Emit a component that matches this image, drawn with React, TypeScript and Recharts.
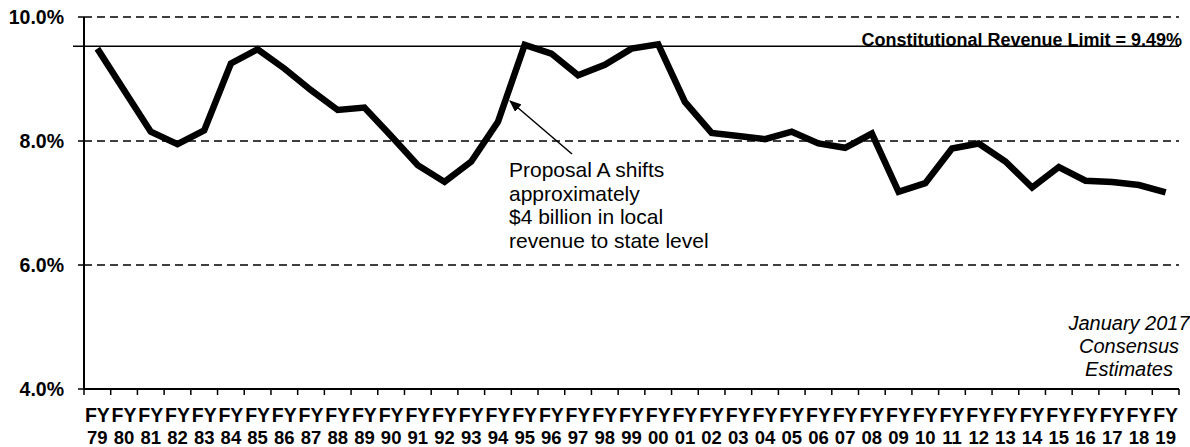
import React from "react";
import {
  LineChart,
  Line,
  XAxis,
  YAxis,
  CartesianGrid,
  ReferenceLine,
} from "recharts";

// fiscal years FY79 .. FY19
const years = [
  "79", "80", "81", "82", "83", "84", "85", "86", "87", "88",
  "89", "90", "91", "92", "93", "94", "95", "96", "97", "98",
  "99", "00", "01", "02", "03", "04", "05", "06", "07", "08",
  "09", "10", "11", "12", "13", "14", "15", "16", "17", "18", "19",
];

// revenue as % of personal income
const revenueShare = [
  9.49, 8.82, 8.15, 7.95, 8.17, 9.25, 9.48, 9.17, 8.82, 8.5,
  8.54, 8.08, 7.61, 7.34, 7.67, 8.31, 9.55, 9.41, 9.06, 9.23,
  9.49, 9.56, 8.63, 8.13, 8.08, 8.03, 8.15, 7.96, 7.89, 8.12,
  7.18, 7.32, 7.88, 7.96, 7.67, 7.25, 7.58, 7.36, 7.34, 7.29, 7.17,
];

const yTicks = [4, 6, 8, 10];
const revenueLimit = 9.53;
const limitLabel = "Constitutional Revenue Limit = 9.49%";
const proposalNote = [
  "Proposal A shifts",
  "approximately",
  "$4 billion in local",
  "revenue to state level",
];
const sourceNote = ["January 2017", "Consensus", "Estimates"];

const FONT = "'Liberation Sans', Arial, sans-serif";

const data = years.map((y, i) => ({ year: y, value: revenueShare[i] }));

const FyTick = (props: any) => {
  const { x, y, payload, index } = props;
  const half = payload?.offset ?? 0;
  const last = index === years.length - 1;
  return (
    <g>
      <line x1={x - half} x2={x - half} y1={y} y2={y + 6} stroke="#000" strokeWidth={1.5} />
      {last && (
        <line x1={x + half} x2={x + half} y1={y} y2={y + 6} stroke="#000" strokeWidth={1.5} />
      )}
      <text
        x={x}
        y={y + 33}
        textAnchor="middle"
        fontFamily={FONT}
        fontWeight="bold"
        fontSize={19.5}
        fill="#000"
      >
        FY
      </text>
      <text
        x={x}
        y={y + 55}
        textAnchor="middle"
        fontFamily={FONT}
        fontWeight="bold"
        fontSize={18.5}
        fill="#000"
      >
        {payload.value}
      </text>
    </g>
  );
};

const PctTick = (props: any) => {
  const { x, y, payload } = props;
  return (
    <text
      x={x}
      y={y}
      dy="0.355em"
      textAnchor="end"
      fontFamily={FONT}
      fontWeight="bold"
      fontSize={19.5}
      fill="#000"
    >
      {`${Number(payload.value).toFixed(1)}%`}
    </text>
  );
};

const LimitLine = (props: any) => {
  const { x1, x2, y1, y2 } = props;
  return <line x1={x1 - 11} x2={x2} y1={y1} y2={y2} stroke="#000" strokeWidth={1.5} />;
};

const LimitLabel = (props: any) => {
  const { viewBox } = props;
  return (
    <text
      x={viewBox.x + viewBox.width + 3}
      y={viewBox.y}
      textAnchor="end"
      fontFamily={FONT}
      fontWeight="bold"
      fontSize={18}
      fill="#000"
    >
      {limitLabel}
    </text>
  );
};

export default function App() {
  return (
    <div style={{ position: "absolute", left: 0, top: 0, width: 1190, height: 447, background: "#fff" }}>
      <LineChart
        width={1190}
        height={447}
        data={data}
        margin={{ top: 17, right: 11, left: 0, bottom: 0 }}
      >
        <CartesianGrid
          vertical={false}
          stroke="#000"
          strokeWidth={1.3}
          strokeDasharray="8 5"
        />
        <XAxis
          dataKey="year"
          scale="band"
          interval={0}
          height={58}
          tickLine={false}
          tickSize={0}
          tickMargin={0}
          axisLine={{ stroke: "#000", strokeWidth: 2 }}
          tick={<FyTick />}
        />
        <YAxis
          domain={[4, 10]}
          ticks={yTicks}
          width={84}
          tickSize={6}
          tickMargin={14}
          axisLine={{ stroke: "#000", strokeWidth: 2 }}
          tickLine={{ stroke: "#000", strokeWidth: 1.5 }}
          tick={<PctTick />}
        />
        <ReferenceLine
          y={revenueLimit}
          shape={<LimitLine />}
          label={<LimitLabel />}
        />
        <Line
          type="linear"
          dataKey="value"
          stroke="#000"
          strokeWidth={6.5}
          dot={false}
          isAnimationActive={false}
        />
      </LineChart>
      <svg
        width={1190}
        height={447}
        style={{ position: "absolute", left: 0, top: 0, pointerEvents: "none" }}
      >
        <defs>
          <marker id="arrowHead" markerWidth="12" markerHeight="10" refX="11" refY="5" orient="auto" markerUnits="userSpaceOnUse">
            <polygon points="0,0 12,5 0,10" fill="#000" />
          </marker>
        </defs>
        <line x1={572} y1={154} x2={510} y2={101} stroke="#000" strokeWidth={1.5} markerEnd="url(#arrowHead)" />
        {proposalNote.map((t, i) => (
          <text key={t} x={509} y={177 + i * 23.7} fontFamily={FONT} fontSize={21} fill="#000">
            {t}
          </text>
        ))}
        {sourceNote.map((t, i) => (
          <text
            key={t}
            x={1129}
            y={330 + i * 23}
            textAnchor="middle"
            fontFamily={FONT}
            fontStyle="italic"
            fontSize={20}
            fill="#000"
          >
            {t}
          </text>
        ))}
      </svg>
    </div>
  );
}
